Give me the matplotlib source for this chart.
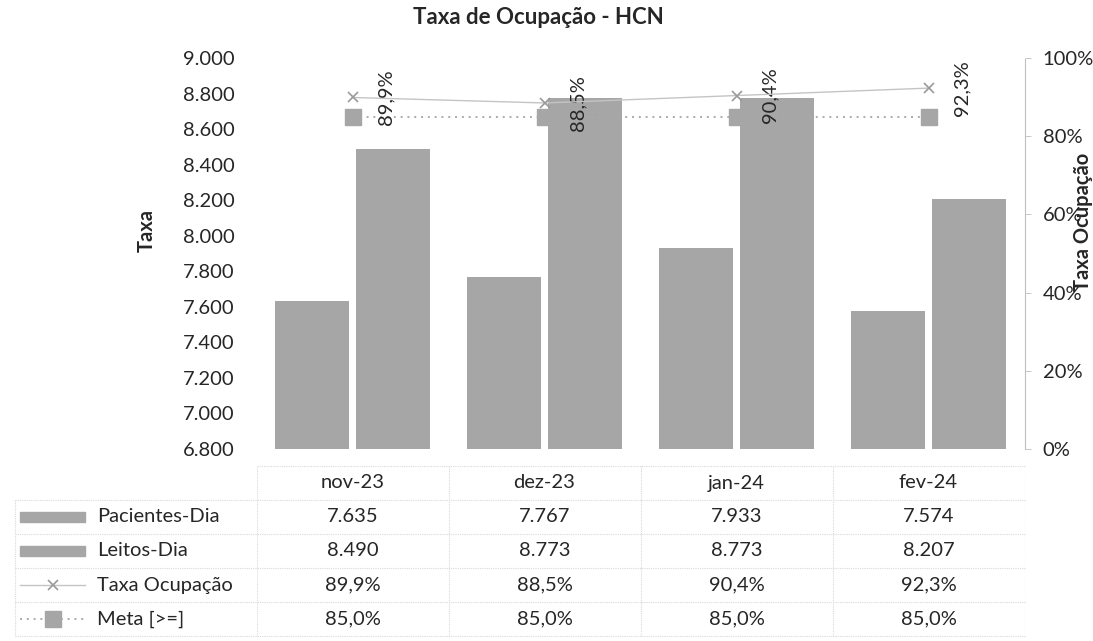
import matplotlib
matplotlib.use("Agg")
import matplotlib.pyplot as plt
from matplotlib.patches import Rectangle
from matplotlib.lines import Line2D
import numpy as np

plt.rcParams["font.family"] = ["Lato", "DejaVu Sans"]

months = ["nov-23", "dez-23", "jan-24", "fev-24"]
pacientes_dia = [7635, 7767, 7933, 7574]
leitos_dia = [8490, 8773, 8773, 8207]
taxa_ocup = [0.899, 0.885, 0.904, 0.923]
meta = [0.85, 0.85, 0.85, 0.85]

BAR = "#a6a6a6"
LINE = "#c4c4c4"
GRID = "#d9d9d9"
TXT = "#262626"
FS = 14.5


def br_int(v):
    return f"{v:,}".replace(",", ".")


def br_pct(v):
    return f"{v * 100:.1f}%".replace(".", ",")


fig = plt.figure(figsize=(10.93, 6.41), dpi=100)
W, H = 1093, 641
left, right = 256.5 / W, 1024.5 / W
ax = fig.add_axes([left, 1 - 449 / H, right - left, (449 - 58) / H])
x = np.arange(len(months))

# bars on the count axis
ax.bar(x - 0.21, pacientes_dia, width=0.385, color=BAR, zorder=2)
ax.bar(x + 0.21, leitos_dia, width=0.385, color=BAR, zorder=2)
ax.set_xlim(-0.5, len(months) - 0.5)
ax.set_ylim(6800, 9000)
ax.set_yticks(np.arange(6800, 9001, 200))
ax.set_yticklabels([br_int(v) for v in range(6800, 9001, 200)])
ax.set_xticks([])
for s in ax.spines.values():
    s.set_visible(False)
ax.tick_params(axis="y", length=0, pad=16, labelsize=FS, labelcolor=TXT)

# rates on the secondary axis
ax2 = ax.twinx()
ax2.plot(x, taxa_ocup, color=LINE, lw=1.0, marker="x", ms=7, mew=1.2,
         mec="#9a9a9a", zorder=4)
ax2.plot(x, meta, color="#aaaaaa", lw=1.4, ls=(0, (1, 2.5)), marker="s", ms=11,
         mfc=BAR, mec=BAR, zorder=3)
for xi, v in zip(x, taxa_ocup):
    ax2.annotate(br_pct(v), (xi, v), xytext=(24, 0), textcoords="offset points",
                 rotation=90, ha="center", va="center", fontsize=FS, color=TXT)
ax2.set_ylim(0, 1)
ax2.set_yticks(np.arange(0, 1.01, 0.2))
ax2.set_yticklabels([f"{int(round(v * 100))}%" for v in np.arange(0, 1.01, 0.2)])
for s in ["top", "bottom", "left"]:
    ax2.spines[s].set_visible(False)
ax2.spines["right"].set_color("#bfbfbf")
ax2.spines["right"].set_linestyle((0, (1, 1)))
ax2.spines["right"].set_linewidth(0.8)
ax2.tick_params(axis="y", length=4, width=0.6, color="#bfbfbf", pad=9,
                labelsize=FS, labelcolor=TXT)

# titles and axis names
fig.text(538 / W, 1 - 18 / H, "Taxa de Ocupação - HCN", ha="center",
         va="center", fontsize=16, fontweight="bold", color=TXT)
fig.text(147 / W, 1 - 230 / H, "Taxa", ha="center", va="center",
         rotation=90, fontsize=FS, fontweight="bold", color=TXT)
fig.text(1083 / W, 1 - 222 / H, "Taxa Ocupação", ha="center", va="center",
         rotation=90, fontsize=FS, fontweight="bold", color=TXT)

# data table under the chart
tab = fig.add_axes([left, 1 - 636 / H, right - left, (636 - 466) / H])
tab.set_xlim(-0.5, len(months) - 0.5)
tab.set_ylim(4.5, -0.5)
tab.axis("off")
rows = [
    ("Pacientes-Dia", [br_int(v) for v in pacientes_dia]),
    ("Leitos-Dia", [br_int(v) for v in leitos_dia]),
    ("Taxa Ocupação", [br_pct(v) for v in taxa_ocup]),
    ("Meta [>=]", [br_pct(v) for v in meta]),
]
tr = tab.get_yaxis_transform()
for i, m in enumerate(months):
    tab.text(i, 0, m, ha="center", va="center", fontsize=FS, color=TXT)
for r, (name, vals) in enumerate(rows, start=1):
    for i, v in enumerate(vals):
        tab.text(i, r, v, ha="center", va="center", fontsize=FS, color=TXT)
    tab.text((97 - 256.5) / 768, r, name, ha="left", va="center", fontsize=FS,
             color=TXT, transform=tr, clip_on=False)

# legend keys in the row headers
kx0, kx1 = (20 - 256.5) / 768, (85 - 256.5) / 768
kxm = (kx0 + kx1) / 2
for r in (1, 2):
    tab.add_patch(Rectangle((kx0, r - 0.15), kx1 - kx0, 0.3, color=BAR,
                            transform=tr, clip_on=False))
tab.add_line(Line2D([kx0, kx1], [3, 3], color=LINE, lw=1.0, transform=tr,
                    clip_on=False))
tab.add_line(Line2D([kxm], [3], marker="x", ms=7, mew=1.2, color="#9a9a9a",
                    transform=tr, clip_on=False))
tab.add_line(Line2D([kx0, kx1], [4, 4], color="#aaaaaa", lw=1.4,
                    ls=(0, (1, 2.5)), transform=tr, clip_on=False))
tab.add_line(Line2D([kxm], [4], marker="s", ms=11, mfc=BAR, mec=BAR,
                    ls="none", transform=tr, clip_on=False))

# faint cell borders
x0 = (15 - 256.5) / 768
for yb in np.arange(-0.5, 4.6, 1.0):
    tab.add_line(Line2D([x0 if yb > -0.5 else 0, 1], [yb, yb], color=GRID,
                        lw=0.8, ls=(0, (1, 1)), transform=tr, clip_on=False))
for xb in np.arange(-0.5, len(months), 1.0):
    tab.axvline(xb, color=GRID, lw=0.8, ls=(0, (1, 1)))
tab.add_line(Line2D([x0, x0], [0.5, 4.5], color=GRID, lw=0.8, ls=(0, (1, 1)),
                    transform=tr, clip_on=False))

fig.savefig("out.png", dpi=100)
